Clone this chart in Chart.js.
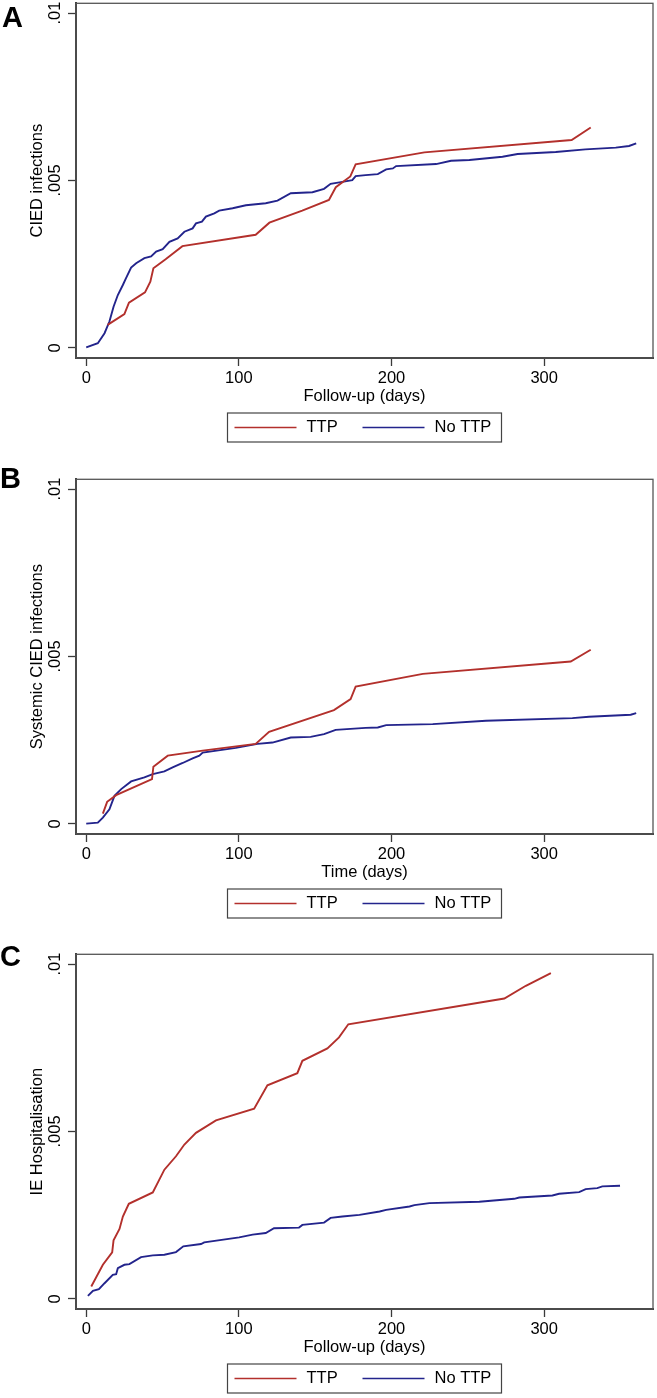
<!DOCTYPE html>
<html>
<head>
<meta charset="UTF-8">
<title>CIED infections by TTP</title>
<script src="https://cdn.jsdelivr.net/npm/chart.js"></script>
<style>
body{margin:0; background:#fff; font-family:"Liberation Sans", Arial, sans-serif;}
.panel{position:absolute; left:0; width:657px; height:447px;}
.tag{position:absolute; font-weight:bold; font-size:29px; line-height:1; color:#000;}
</style>
</head>
<body>
<div class="panel" style="top:0px"><canvas id="chartA" width="657" height="447"></canvas></div>
<div class="panel" style="top:476px"><canvas id="chartB" width="657" height="447"></canvas></div>
<div class="panel" style="top:951px"><canvas id="chartC" width="657" height="447"></canvas></div>
<div class="tag" style="left:2px; top:3px">A</div>
<div class="tag" style="left:0px; top:464px">B</div>
<div class="tag" style="left:0px; top:942px">C</div>
<script>
// tick values (days / cumulative incidence)
const xTicks = [0, 100, 200, 300];
const yTicks = [0, 0.005, 0.01];
const yTickLabels = ['0', '.005', '.01'];
const seriesNames = ['TTP', 'No TTP'];

// A - CIED infections
const aTtpDays = [14, 25, 28, 38.5, 42, 44, 52, 63, 111, 120, 141.5, 159, 163.5, 173, 176.5, 221.5, 318, 330.5];
const aTtpRisk = [0.00069, 0.00101, 0.00135, 0.00166, 0.00198, 0.00238, 0.00265, 0.00304, 0.00338, 0.00374, 0.0041, 0.00442, 0.0048, 0.00512, 0.00548, 0.00584, 0.00621, 0.00658];
const aNoDays = [0, 7.6, 12, 15.2, 17.9, 20.7, 24, 26, 29.4, 32.7, 38.1, 42.5, 45.8, 50.1, 54.5, 59.9, 64.3, 69.7, 71.9, 75.8, 78.4, 83.9, 87.1, 95.9, 104.6, 117.6, 125.3, 134, 148.2, 155.8, 160.1, 167.8, 174.3, 176.5, 183, 191, 196.5, 200.9, 203, 229.2, 239, 251, 272.7, 282.6, 307.6, 327, 346.9, 355.6, 360.3];
const aNoRisk = [0.00002, 0.00014, 0.00044, 0.00079, 0.00123, 0.00158, 0.00188, 0.00208, 0.0024, 0.00253, 0.00268, 0.00273, 0.00288, 0.00295, 0.00317, 0.00327, 0.00347, 0.00357, 0.00372, 0.00377, 0.00392, 0.00402, 0.0041, 0.00417, 0.00426, 0.00432, 0.0044, 0.00462, 0.00465, 0.00475, 0.0049, 0.00496, 0.00501, 0.00513, 0.00516, 0.00519, 0.00533, 0.00536, 0.00543, 0.00549, 0.00559, 0.00561, 0.00571, 0.00579, 0.00585, 0.00593, 0.00598, 0.00603, 0.00611];

// B - systemic CIED infections
const bTtpDays = [10.9, 13.7, 19.6, 43.1, 44, 53.4, 76.3, 111, 119.8, 162.3, 173.2, 176.5, 220.5, 317.4, 330.5];
const bTtpRisk = [0.00031, 0.00066, 0.00086, 0.00134, 0.00171, 0.00204, 0.00219, 0.00239, 0.00275, 0.0034, 0.00373, 0.0041, 0.00448, 0.00485, 0.0052];
const bNoDays = [0, 7.6, 10.9, 15.2, 18.5, 22.9, 29.4, 38.1, 43.6, 51.2, 56.6, 63.2, 69.7, 74.1, 76.3, 98, 112.2, 122, 134, 147, 155.8, 163.4, 183, 191, 196.5, 227, 261.9, 318.5, 329.4, 356.7, 360.3];
const bNoRisk = [0.00001, 0.00004, 0.00019, 0.00044, 0.00084, 0.00104, 0.00127, 0.00139, 0.00149, 0.00157, 0.00169, 0.00182, 0.00196, 0.00204, 0.00213, 0.00227, 0.00239, 0.00243, 0.00258, 0.0026, 0.00268, 0.00281, 0.00287, 0.00288, 0.00295, 0.00298, 0.00308, 0.00316, 0.0032, 0.00326, 0.00331];

// C - IE hospitalisation
const cTtpDays = [3.3, 10.9, 17, 17.9, 21.8, 24, 27.9, 43.6, 51.2, 58.8, 64.3, 71.9, 85, 110, 118.7, 138.3, 141.6, 158, 165.6, 171.7, 273.9, 288, 304.4];
const cTtpRisk = [0.00037, 0.00102, 0.00139, 0.00175, 0.00209, 0.00246, 0.00284, 0.00318, 0.00386, 0.00426, 0.00461, 0.00496, 0.00533, 0.00568, 0.00638, 0.00674, 0.00711, 0.00748, 0.00781, 0.0082, 0.00897, 0.00935, 0.00973];
const cNoDays = [1.1, 4.4, 8.3, 12, 17.4, 19.6, 20.7, 25, 28.3, 35.9, 43.6, 51.2, 58.8, 63.6, 75.2, 77.3, 100.2, 109, 117.6, 123, 139.4, 141.6, 155.8, 160.1, 167.8, 179, 192.2, 196.5, 211.8, 215, 224.8, 257.5, 280.4, 283.7, 305.4, 309.8, 322.9, 327.2, 334.8, 338.1, 349.7];
const cNoRisk = [0.00009, 0.00024, 0.00029, 0.00047, 0.00072, 0.00074, 0.00092, 0.00102, 0.00104, 0.00125, 0.0013, 0.00132, 0.0014, 0.00157, 0.00164, 0.00169, 0.00184, 0.00192, 0.00197, 0.00211, 0.00213, 0.00221, 0.00228, 0.00242, 0.00246, 0.00251, 0.00261, 0.00266, 0.00276, 0.0028, 0.00286, 0.0029, 0.00299, 0.00303, 0.00309, 0.00314, 0.00319, 0.00328, 0.00331, 0.00336, 0.00338];

const FONT = '"Liberation Sans", Arial, sans-serif';
Chart.defaults.font.family = FONT;
Chart.defaults.font.size = 16.5;
Chart.defaults.color = '#000';

const RED = '#b3302c';
const BLUE = '#23248c';
const AXIS = '#3a3a3a';

function pts(days, risk) {
  return days.map((d, i) => ({x: d, y: risk[i]}));
}

// stata style plot frame + boxed legend under the axis title
const framePlugin = {
  id: 'frame',
  afterDraw(chart) {
    const ctx = chart.ctx, a = chart.chartArea;
    ctx.save();
    ctx.strokeStyle = '#555';
    ctx.lineWidth = 1.3;
    ctx.strokeRect(a.left, a.top, a.right - a.left, a.bottom - a.top);

    const cx = (a.left + a.right) / 2;
    const w = 274, h = 29, top = a.bottom + 55;
    ctx.strokeStyle = '#444';
    ctx.lineWidth = 1.2;
    ctx.strokeRect(cx - w / 2, top, w, h);
    const ym = top + h / 2;
    let x = cx - w / 2 + 7;
    ctx.font = '16.5px ' + FONT;
    ctx.textBaseline = 'middle';
    ctx.fillStyle = '#000';
    chart.data.datasets.forEach(ds => {
      ctx.strokeStyle = ds.borderColor;
      ctx.lineWidth = 1.6;
      ctx.beginPath();
      ctx.moveTo(x, ym);
      ctx.lineTo(x + 62, ym);
      ctx.stroke();
      ctx.fillText(ds.label, x + 72, ym);
      x += 128;
    });
    ctx.restore();
  }
};

function makePanel(id, yTitle, xTitle, ttpDays, ttpRisk, noDays, noRisk) {
  new Chart(document.getElementById(id), {
    type: 'line',
    data: {
      datasets: [
        {label: seriesNames[0], data: pts(ttpDays, ttpRisk), borderColor: RED, borderWidth: 1.9},
        {label: seriesNames[1], data: pts(noDays, noRisk), borderColor: BLUE, borderWidth: 1.9}
      ]
    },
    options: {
      responsive: false,
      animation: false,
      layout: {padding: {top: 3.3, right: 4, bottom: 39, left: 0}},
      elements: {point: {radius: 0}, line: {tension: 0}},
      plugins: {legend: {display: false}, tooltip: {enabled: false}},
      scales: {
        x: {
          type: 'linear',
          min: -6.7, max: 371.3,
          afterBuildTicks: s => { s.ticks = xTicks.map(v => ({value: v})); },
          afterFit: s => { s.height = 50; s.paddingLeft = 0; s.paddingRight = 0; },
          ticks: {padding: 3, callback: v => String(v)},
          grid: {drawOnChartArea: false, drawTicks: true, tickLength: 8, tickColor: AXIS, tickWidth: 1.3},
          border: {color: AXIS, width: 2},
          title: {display: true, text: xTitle, padding: {top: 0, bottom: 2}}
        },
        y: {
          min: -0.0003, max: 0.01029,
          afterBuildTicks: s => { s.ticks = yTicks.map(v => ({value: v})); },
          afterFit: s => { s.width = 76; s.paddingTop = 0; s.paddingBottom = 0; },
          ticks: {padding: -4, minRotation: 90, maxRotation: 90, crossAlign: 'center',
                  callback: (v, i) => yTickLabels[i]},
          grid: {drawOnChartArea: false, drawTicks: true, tickLength: 8, tickColor: AXIS, tickWidth: 1.3},
          border: {color: AXIS, width: 2},
          title: {display: true, text: yTitle, padding: {top: 28, bottom: 0}}
        }
      }
    },
    plugins: [framePlugin]
  });
}

makePanel('chartA', 'CIED infections', 'Follow-up (days)', aTtpDays, aTtpRisk, aNoDays, aNoRisk);
makePanel('chartB', 'Systemic CIED infections', 'Time (days)', bTtpDays, bTtpRisk, bNoDays, bNoRisk);
makePanel('chartC', 'IE Hospitalisation', 'Follow-up (days)', cTtpDays, cTtpRisk, cNoDays, cNoRisk);
</script>
</body>
</html>
